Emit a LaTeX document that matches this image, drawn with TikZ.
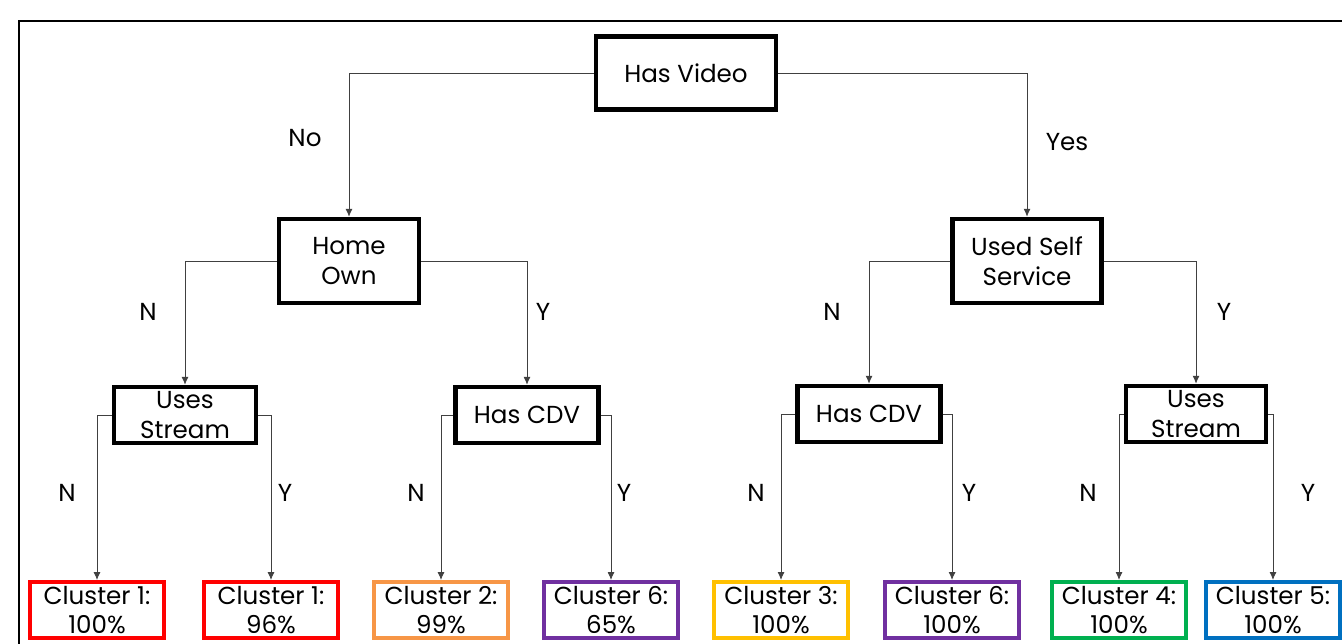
\documentclass[tikz,border=0pt]{standalone}
\usepackage{fontspec}
\setmainfont{Poppins}
\usepackage{xcolor}
\usetikzlibrary{arrows.meta}

\definecolor{clred}{HTML}{FF0000}
\definecolor{clorange}{HTML}{F79646}
\definecolor{clpurple}{HTML}{7030A0}
\definecolor{clyellow}{HTML}{FFC000}
\definecolor{clgreen}{HTML}{00B050}
\definecolor{clblue}{HTML}{0070C0}

\tikzset{
  decision/.style={draw=black, line width=0.09cm, fill=white, align=center,
    inner sep=0pt, minimum height=1.12cm},
  cluster/.style={draw=#1, line width=0.07cm, align=center, inner sep=0pt,
    minimum width=2.68cm, minimum height=1.13cm},
  branch/.style={draw=black!75, line width=0.5pt,
    -{Latex[length=1.6mm,width=1.4mm]}},
  answer/.style={inner sep=0pt},
}

\begin{document}
\begin{tikzpicture}[x=0.02cm, y=-0.02cm,
  every node/.style={font=\fontsize{14pt}{17pt}\selectfont}]

\useasboundingbox (0,0) rectangle (1342,644);
\draw[line width=0.04cm] (19,644) |- (1342,21);

% decisions
\node[decision, minimum width=3.6cm, minimum height=1.46cm] (video) at (686,73) {Has Video};

\node[decision, minimum width=2.8cm, minimum height=1.68cm] (home) at (349,261) {Home\\Own};
\node[decision, minimum width=2.98cm, minimum height=1.68cm] (self) at (1027,261) {Used Self\\Service};

\node[decision, minimum width=2.84cm] (streamL) at (185,415) {Uses\\Stream};
\node[decision, minimum width=2.86cm] (cdvL) at (527,415) {Has CDV};
\node[decision, minimum width=2.86cm] (cdvR) at (869,414) {Has CDV};
\node[decision, minimum width=2.8cm] (streamR) at (1196,414) {Uses\\Stream};

% leaves
\foreach \x/\c/\n/\p [count=\i] in {97/clred/1/100, 271/clred/1/96,
    441/clorange/2/99, 611/clpurple/6/65, 781/clyellow/3/100,
    952/clpurple/6/100, 1119/clgreen/4/100, 1273/clblue/5/100}
  \node[cluster=\c] (c\i) at (\x,610) {Cluster \n:\\\p\%};

% branches
\draw[branch] (video.west) -| (home.north);
\draw[branch] (video.east) -| (self.north);

\draw[branch] (home.west) -| (streamL.north);
\draw[branch] (home.east) -| (cdvL.north);
\draw[branch] (self.west) -| (cdvR.north);
\draw[branch] (self.east) -| (streamR.north);

\draw[branch] (streamL.west) -| (c1.north);
\draw[branch] (streamL.east) -| (c2.north);
\draw[branch] (cdvL.west) -| (c3.north);
\draw[branch] (cdvL.east) -| (c4.north);
\draw[branch] (cdvR.west) -| (c5.north);
\draw[branch] (cdvR.east) -| (c6.north);
\draw[branch] (streamR.west) -| (c7.north);
\draw[branch] (streamR.east) -| (c8.north);

% answers
\node[answer] (aNo) at (305,138) {No};
\node[answer] (aYes) at (1067,142) {Yes};

\node[answer] (aN1) at (148,312) {N};
\node[answer] (aY1) at (543,312) {Y};
\node[answer] (aN2) at (832,312) {N};
\node[answer] (aY2) at (1224,312) {Y};

\node[answer] (aN3) at (67,493) {N};
\node[answer] (aY3) at (285,493) {Y};
\node[answer] (aN4) at (416,493) {N};
\node[answer] (aY4) at (624,493) {Y};
\node[answer] (aN5) at (756,493) {N};
\node[answer] (aY5) at (969,493) {Y};
\node[answer] (aN6) at (1088,493) {N};
\node[answer] (aY6) at (1308,493) {Y};

\end{tikzpicture}
\end{document}
